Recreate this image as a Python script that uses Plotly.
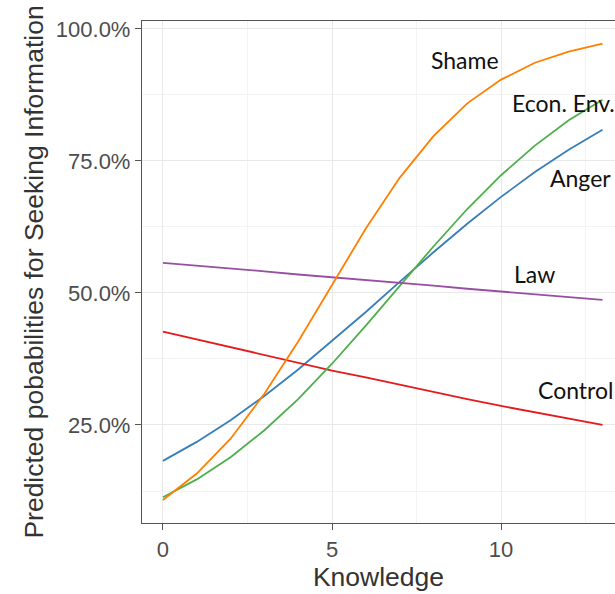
import plotly.graph_objects as go

knowledge = list(range(14))
shame = [0.108, 0.158, 0.224, 0.309, 0.408, 0.516, 0.622, 0.718, 0.797, 0.859, 0.904, 0.936, 0.957, 0.972]
econ_env = [0.113, 0.147, 0.189, 0.240, 0.299, 0.366, 0.438, 0.514, 0.588, 0.659, 0.723, 0.779, 0.827, 0.866]
anger = [0.182, 0.218, 0.259, 0.305, 0.355, 0.409, 0.464, 0.521, 0.577, 0.631, 0.682, 0.729, 0.771, 0.809]
law = [0.557, 0.552, 0.546, 0.541, 0.535, 0.530, 0.525, 0.519, 0.514, 0.508, 0.503, 0.498, 0.492, 0.487]
control = [0.427, 0.412, 0.397, 0.382, 0.368, 0.353, 0.340, 0.326, 0.312, 0.299, 0.286, 0.274, 0.262, 0.250]

series = [
    ("Anger", anger, "#377EB8"),
    ("Control", control, "#E41A1C"),
    ("Econ. Env.", econ_env, "#4DAF4A"),
    ("Law", law, "#984EA3"),
    ("Shame", shame, "#FF7F00"),
]

# label positions (data coords)
labels = [
    ("Shame", 8.93, 0.941),
    ("Econ. Env.", 11.85, 0.860),
    ("Anger", 12.34, 0.718),
    ("Law", 11.0, 0.536),
    ("Control", 12.2, 0.316),
]

y_ticks = [0.25, 0.50, 0.75, 1.00]
x_ticks = [0, 5, 10]

fig = go.Figure()
for name, vals, col in series:
    fig.add_trace(go.Scatter(x=knowledge, y=vals, mode="lines", name=name,
                             line=dict(color=col, width=1.8), showlegend=False))

for text, lx, ly in labels:
    fig.add_annotation(x=lx, y=ly, text=text, showarrow=False,
                       font=dict(family="Lato, Open Sans, sans-serif", size=23, color="#111111"),
                       xanchor="center", yanchor="middle")

axis_font = dict(family="Liberation Sans, Arial, sans-serif", size=22, color="#4D4D4D")
title_font = dict(family="Liberation Sans, Arial, sans-serif", size=26.5, color="#333333")

fig.update_layout(
    width=615, height=594,
    margin=dict(l=142, r=0, t=21, b=71),
    paper_bgcolor="white", plot_bgcolor="white",
    xaxis=dict(
        range=[-0.62, 13.37], tickvals=x_ticks, ticktext=[str(v) for v in x_ticks],
        showgrid=True, gridcolor="#E8E8E8", gridwidth=1.4,
        minor=dict(dtick=2.5, tick0=2.5, showgrid=True, gridcolor="#F3F3F3", gridwidth=1),
        showline=True, linecolor="#555555", linewidth=1.3, mirror=True,
        ticks="outside", ticklen=6, tickcolor="#555555", tickwidth=1.2,
        tickfont=axis_font, zeroline=False,
        title=dict(text="Knowledge", font=title_font, standoff=4),
    ),
    yaxis=dict(
        range=[0.0644, 1.015], tickvals=y_ticks, tickformat=".1%",
        showgrid=True, gridcolor="#E8E8E8", gridwidth=1.4,
        minor=dict(tickvals=[0.125, 0.375, 0.625, 0.875], showgrid=True, gridcolor="#F3F3F3", gridwidth=1),
        showline=True, linecolor="#555555", linewidth=1.3,
        ticks="outside", ticklen=6, tickcolor="#555555", tickwidth=1.2,
        tickfont=axis_font, zeroline=False,
        title=dict(text="Predicted pobabilities for Seeking Information", font=title_font, standoff=4),
    ),
)

fig.write_html("out.html")
